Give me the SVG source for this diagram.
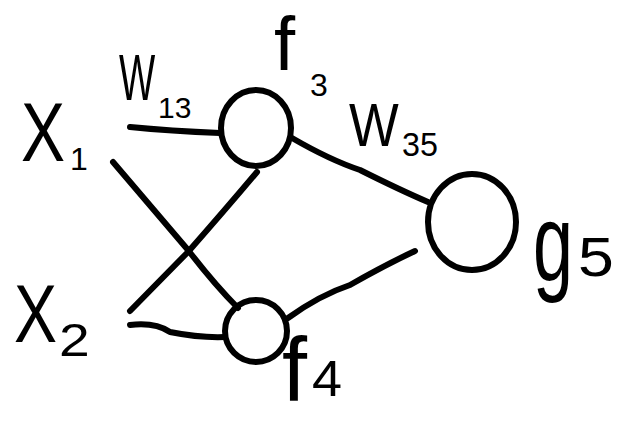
<svg xmlns="http://www.w3.org/2000/svg" width="620" height="423" viewBox="0 0 620 423">
<style>
.ln{fill:none;stroke:#000;stroke-width:6;stroke-linecap:round;stroke-linejoin:round}
.t{font-family:"Liberation Sans",Arial,sans-serif;fill:#000}
</style>
<rect width="620" height="423" fill="#fff"/>
<g id="connectors">
<path class="ln" d="M130,127 Q170,131 220,133"/>
<path class="ln" d="M113,162 L188,250 Q215,285 238,308"/>
<path class="ln" d="M130,311 L188,252 Q225,210 257,172"/>
<path class="ln" d="M130,325 Q155,322 170,332 Q200,338 225,337"/>
<path class="ln" d="M292,138 Q330,160 360,170 Q400,190 428,202"/>
<path class="ln" d="M288,318 Q320,295 350,285 Q385,265 415,251"/>
</g>
<g id="x1">
<text class="t" transform="translate(21,161) scale(0.786,1)" font-size="84">X</text>
<text class="t" x="70" y="170" font-size="32">1</text>
</g>
<g id="x2">
<text class="t" transform="translate(14,342) scale(0.786,1)" font-size="82">X</text>
<text class="t" transform="translate(59,356) scale(1.2,1)" font-size="46">2</text>
</g>
<g id="w13">
<text class="t" transform="translate(119,100) scale(0.6,1)" font-size="64">W</text>
<text class="t" x="158" y="118" font-size="30">13</text>
</g>
<g id="f3">
<ellipse class="ln" cx="256" cy="128" rx="35" ry="38"/>
<text class="t" x="274" y="70" font-size="76">f</text>
<text class="t" x="310" y="96" font-size="32">3</text>
</g>
<g id="w35">
<text class="t" transform="translate(349,146) scale(0.85,1)" font-size="62">W</text>
<text class="t" transform="translate(402,156) scale(0.95,1)" font-size="34">35</text>
</g>
<g id="f4">
<circle class="ln" cx="256" cy="331" r="31"/>
<text class="t" x="282" y="401" font-size="90">f</text>
<text class="t" transform="translate(312,396) scale(1.08,1)" font-size="50">4</text>
</g>
<g id="g5">
<ellipse class="ln" cx="472" cy="222" rx="44" ry="48"/>
<text class="t" transform="translate(533,280) scale(0.655,1)" font-size="110">g</text>
<text class="t" transform="translate(578,276) scale(1.15,1)" font-size="56">5</text>
</g>
</svg>
